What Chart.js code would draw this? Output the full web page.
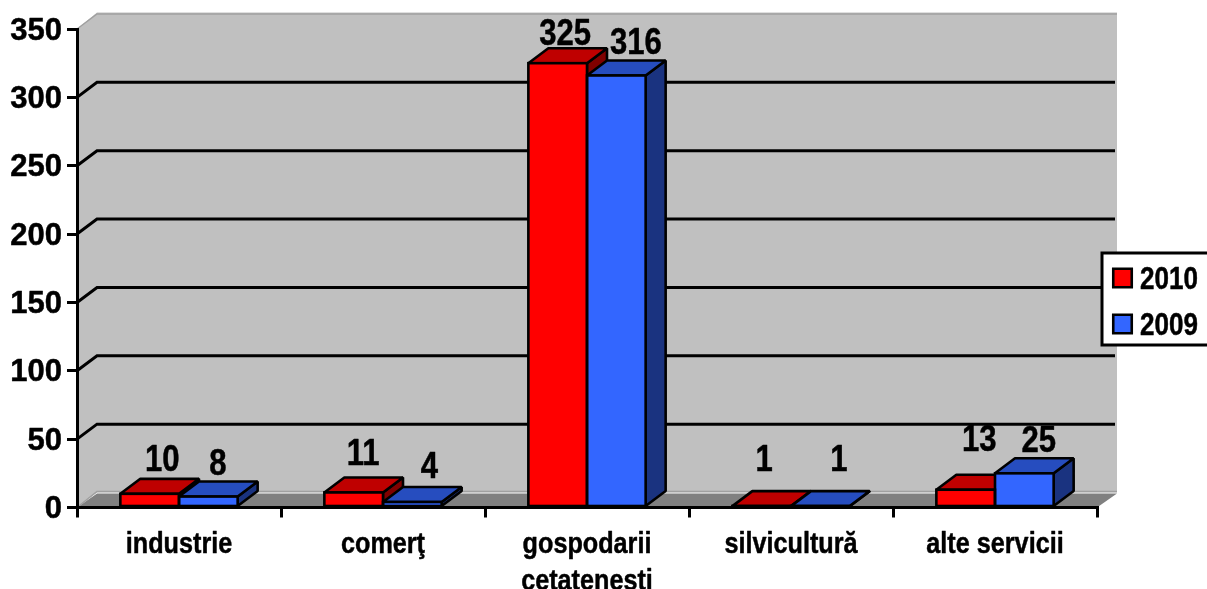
<!DOCTYPE html>
<html>
<head>
<meta charset="utf-8">
<title>Chart</title>
<script src="https://cdn.jsdelivr.net/npm/chart.js@4"></script>
<style>
    html, body { margin: 0; padding: 0; background: #fff; overflow: hidden; }
    canvas { display: block; }
</style>
</head>
<body>
<canvas id="barChart" width="1207" height="589"></canvas>
<script>
const categories = ["industrie", "comerţ", ["gospodarii", "cetatenesti"], "silvicultură", "alte servicii"];
const values2010 = [10, 11, 325, 1, 13];
const values2009 = [8, 4, 316, 1, 25];
const yTicks = [0, 50, 100, 150, 200, 250, 300, 350];

// the value labels were moved by hand in the original, so each one has its own nudge
const nudgeX2010 = [12.5, 9.5, 7.5, 2.5, 13.5];
const nudgeY2010 = [-35, -40, -30, -47, -51];
const nudgeX2009 = [9.5, 17, 19.5, 18.5, 14.5];
const nudgeY2009 = [-33.5, -36, -34, -47, -34];

const depthX = 20;
const depthY = 15;
const lineWidth = 3;
const barLineWidth = 2.6;
const narrowFont = '"Liberation Sans Narrow", "Liberation Sans", sans-serif';
const wideFont = '"Liberation Sans", Arial, sans-serif';

function polygon(ctx, points, fill, stroke) {
    ctx.beginPath();
    points.forEach((p, i) => {
        if (i === 0) ctx.moveTo(p[0], p[1]);
        else ctx.lineTo(p[0], p[1]);
    });
    ctx.closePath();
    ctx.fillStyle = fill;
    ctx.fill();
    if (stroke) {
        ctx.strokeStyle = stroke;
        ctx.lineWidth = barLineWidth;
        ctx.lineJoin = "bevel";
        ctx.stroke();
    }
}

// Liberation Sans Narrow is not installed, so squeeze the plain bold by hand.
// The original text is also a bit heavier than Liberation bold.
function adjustText(ctx) {
    const fillText = ctx.fillText;
    ctx.fillText = function (text, x, y) {
        const narrow = ctx.font.includes("Narrow");
        ctx.save();
        ctx.translate(x, narrow ? y + 2 : y);
        ctx.scale(narrow ? 0.84 : 1, 1);
        ctx.strokeStyle = "#000";
        ctx.lineWidth = 0.5;
        ctx.lineJoin = "round";
        ctx.strokeText(text, 0, 0);
        fillText.call(ctx, text, 0, 0);
        ctx.restore();
    };
}

// back wall, floor, gridlines and the legend's white box go under everything else
const wallPlugin = {
    id: "wall",
    beforeDraw(chart) {
        const ctx = chart.ctx;
        const x = chart.scales.x;
        const y = chart.scales.y;
        const top = y.getPixelForValue(yTicks[yTicks.length - 1]);
        const bottom = y.getPixelForValue(0);

        ctx.save();
        polygon(ctx, [[x.left, top], [x.left + depthX, top - depthY - 1.5], [x.right + depthX, top - depthY - 1.5],
            [x.right + depthX, bottom - depthY], [x.left + depthX, bottom - depthY], [x.left, bottom]], "#c0c0c0");
        polygon(ctx, [[x.left, bottom], [x.left + depthX, bottom - depthY + 1], [x.right + depthX, bottom - depthY + 1],
            [x.right, bottom]], "#808080");

        // thin edges of the wall
        ctx.strokeStyle = "#a0a0a0";
        ctx.lineWidth = 1.5;
        ctx.beginPath();
        ctx.moveTo(x.left, top);
        ctx.lineTo(x.left + depthX, top - depthY);
        ctx.lineTo(x.right + depthX, top - depthY);
        ctx.moveTo(x.left, bottom);
        ctx.lineTo(x.left + depthX, bottom - depthY - 1);
        ctx.lineTo(x.right + depthX, bottom - depthY - 1);
        ctx.stroke();

        ctx.strokeStyle = "#000";
        ctx.lineWidth = lineWidth;
        ctx.beginPath();
        yTicks.forEach(tick => {
            if (tick === 0 || tick === 350) return;
            const py = y.getPixelForValue(tick);
            ctx.moveTo(x.left, py);
            ctx.lineTo(x.left + depthX, py - depthY);
            ctx.lineTo(x.right + depthX - 2, py - depthY);
        });
        ctx.stroke();

        ctx.fillStyle = "#fff";
        ctx.fillRect(1102, 253, 110, 92);
        ctx.strokeRect(1102, 253, 110, 92);
        ctx.restore();
    },
    afterLayout(chart) {
        // legend sits half over the wall, so it has to leave the chart area
        const legend = chart.legend;
        legend.left = 1105.5;
        legend.right = 1207;
        legend.top = 247.5;
        legend.bottom = 420;
    }
};

// sides and tops of the bars, the front fills come from Chart.js
const barDepthPlugin = {
    id: "barDepth",
    beforeDatasetsDraw(chart) {
        const ctx = chart.ctx;
        const sideColors = ["#800000", "#1a3380"];
        const topColors = ["#bf0000", "#264dbf"];
        ctx.save();
        for (let j = 0; j < categories.length; j++) {
            chart.data.datasets.forEach((ds, i) => {
                const bar = chart.getDatasetMeta(i).data[j];
                const left = bar.x - bar.width / 2;
                const right = bar.x + bar.width / 2;
                polygon(ctx, [[right, bar.y], [right + depthX, bar.y - depthY], [right + depthX, bar.base - depthY],
                    [right, bar.base]], sideColors[i], "#000");
                polygon(ctx, [[left, bar.y], [left + depthX, bar.y - depthY], [right + depthX, bar.y - depthY],
                    [right, bar.y]], topColors[i], "#000");
            });
        }
        ctx.restore();
    },
    afterDatasetsDraw(chart) {
        const ctx = chart.ctx;
        const nudges = [[nudgeX2010, nudgeY2010], [nudgeX2009, nudgeY2009]];
        ctx.save();

        // outline sits on the edge of the front face, Chart.js would put it inside
        ctx.strokeStyle = "#000";
        ctx.lineWidth = barLineWidth;
        chart.data.datasets.forEach((ds, i) => {
            chart.getDatasetMeta(i).data.forEach(bar => {
                ctx.strokeRect(bar.x - bar.width / 2, bar.y, bar.width, bar.base - bar.y);
            });
        });

        ctx.fillStyle = "#000";
        ctx.font = "bold 37px " + narrowFont;
        ctx.textAlign = "center";
        ctx.textBaseline = "middle";
        chart.data.datasets.forEach((ds, i) => {
            chart.getDatasetMeta(i).data.forEach((bar, j) => {
                ctx.fillText(String(ds.data[j]), bar.x + nudges[i][0][j], bar.y + nudges[i][1][j]);
            });
        });
        ctx.restore();
    }
};

function legendLabels(chart) {
    return Chart.defaults.plugins.legend.labels.generateLabels(chart).map(item => {
        item.strokeStyle = "#000";
        item.lineWidth = barLineWidth;
        return item;
    });
}

function loadChart() {
    const ctx = document.getElementById("barChart").getContext("2d");
    adjustText(ctx);

    new Chart(ctx, {
        type: "bar",
        data: {
            labels: categories,
            datasets: [
                { label: "2010", data: values2010, backgroundColor: "#ff0000", borderWidth: 0 },
                { label: "2009", data: values2009, backgroundColor: "#3366ff", borderWidth: 0 }
            ]
        },
        options: {
            responsive: false,
            animation: false,
            categoryPercentage: 0.575,
            barPercentage: 1,
            layout: { padding: { top: 29, right: 110, left: 0, bottom: 0 } },
            plugins: {
                tooltip: { enabled: false },
                legend: {
                    position: "chartArea",
                    align: "start",
                    labels: {
                        color: "#000",
                        generateLabels: legendLabels,
                        usePointStyle: true,
                        pointStyle: "rect",
                        boxWidth: 4,
                        boxHeight: 18.5,
                        padding: 15,
                        font: { family: narrowFont, size: 31, weight: "bold", lineHeight: 1 }
                    }
                }
            },
            scales: {
                x: {
                    afterFit: scale => { scale.height = 81.5; },
                    grid: { drawOnChartArea: false, color: "#000", lineWidth: lineWidth, tickLength: 10 },
                    border: { color: "#000", width: lineWidth },
                    ticks: {
                        color: "#000",
                        autoSkip: false,
                        maxRotation: 0,
                        padding: 6,
                        font: { family: narrowFont, size: 30, weight: "bold", lineHeight: 1.25 }
                    }
                },
                y: {
                    min: 0,
                    max: 350,
                    afterFit: scale => { scale.width = 77; },
                    grid: { drawOnChartArea: false, color: "#000", lineWidth: lineWidth, tickLength: 10 },
                    border: { color: "#000", width: lineWidth },
                    ticks: {
                        color: "#000",
                        stepSize: 50,
                        padding: 5,
                        labelOffset: 2,
                        font: { family: wideFont, size: 31, weight: "bold" }
                    }
                }
            }
        },
        plugins: [wallPlugin, barDepthPlugin]
    });
}

document.addEventListener("DOMContentLoaded", function () {
    loadChart();
});
</script>
</body>
</html>
